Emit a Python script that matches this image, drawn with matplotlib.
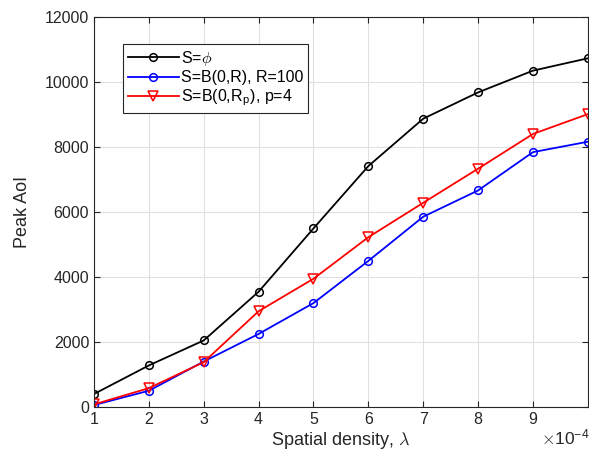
import matplotlib
matplotlib.use("Agg")
import matplotlib.pyplot as plt

plt.rcParams['font.family'] = ['Liberation Sans', 'DejaVu Sans']
plt.rcParams['mathtext.fontset'] = 'cm'

density = [1, 2, 3, 4, 5, 6, 7, 8, 9, 10]
aoi_phi = [400, 1280, 2050, 3550, 5500, 7420, 8880, 9690, 10360, 10740]
aoi_ball = [60, 500, 1400, 2250, 3200, 4500, 5860, 6670, 7850, 8170]
aoi_rp = [80, 580, 1380, 2950, 3950, 5230, 6290, 7340, 8410, 9020]

fig = plt.figure(figsize=(5.89, 4.58), dpi=100)
ax = fig.add_axes([0.1596, 0.1114, 0.8384, 0.8506])

ax.plot(density, aoi_phi, color='black', marker='o', mfc='none', ms=5.5, lw=1.3, mew=1.1,
        label=r'S=$\phi$')
ax.plot(density, aoi_ball, color='blue', marker='o', mfc='none', ms=5.5, lw=1.3, mew=1.1,
        label='S=B(0,R), R=100')
ax.plot(density, aoi_rp, color='red', marker='v', mfc='none', ms=6.5, lw=1.3, mew=1.1,
        label=r'S=B(0,R$_{\mathregular{p}}$), p=4')

ax.set_xlim(1, 10)
ax.set_ylim(0, 12000)
ax.set_xticks([1, 2, 3, 4, 5, 6, 7, 8, 9])
ax.set_yticks(range(0, 12001, 2000))
ax.tick_params(direction='in', labelsize=11.5, length=4, top=True, right=True,
               colors='#262626')
ax.grid(True, color='#e0e0e0', lw=0.8)
ax.set_axisbelow(True)
for s in ax.spines.values():
    s.set_color('#262626')
    s.set_linewidth(0.8)

ax.set_xlabel(r'Spatial density, $\lambda$', fontsize=13, color='#262626', labelpad=2)
ax.set_ylabel('Peak AoI', fontsize=13, color='#262626', labelpad=10)
fig.text(0.918, 0.03, r'$\times\mathregular{10^{-4}}$', fontsize=12.5, color='#262626')

leg = ax.legend(loc='upper left', bbox_to_anchor=(0.042, 0.952), fontsize=11.5,
                fancybox=False, framealpha=1, edgecolor='#262626', handlelength=3.2,
                handletextpad=0.15, borderpad=0.3, labelspacing=0.15)
leg.get_frame().set_linewidth(0.8)

fig.savefig('out.png', dpi=100)
